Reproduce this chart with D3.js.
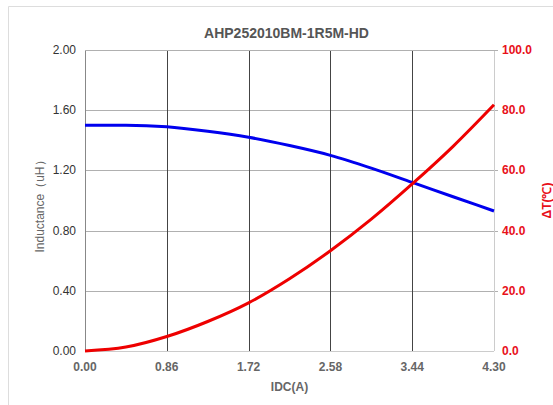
<!DOCTYPE html>
<html>
<head>
<meta charset="utf-8">
<script src="https://cdn.jsdelivr.net/npm/d3@7"></script>
<style>
  body { margin: 0; background: #fff; }
  text { font-family: "Liberation Sans", Arial, sans-serif; }
</style>
</head>
<body>
<div id="chart"></div>
<script>
// data
var idc = [0, 0.43, 0.86, 1.29, 1.72, 2.15, 2.58, 3.01, 3.44, 3.87, 4.30];
var inductance = [1.50, 1.50, 1.49, 1.46, 1.42, 1.365, 1.30, 1.215, 1.12, 1.025, 0.93];
var tempRise = [0, 1.3, 4.8, 9.8, 16, 24, 33.3, 43.8, 55.5, 68, 81.8];
var xTicks = [0, 0.86, 1.72, 2.58, 3.44, 4.30];
var leftTicks = [0, 0.4, 0.8, 1.2, 1.6, 2.0];
var rightTicks = [0, 20, 40, 60, 80, 100];

const width = 553, height = 405;
const margin = {left: 85, right: 59, top: 50, bottom: 54};

var svg = d3.select("#chart").append("svg")
  .attr("width", width)
  .attr("height", height);

// light frame
svg.append("line").attr("x1", 8.5).attr("y1", 6.5).attr("x2", 8.5).attr("y2", height)
  .attr("stroke", "#ddd");
svg.append("line").attr("x1", 8.5).attr("y1", 6.5).attr("x2", width).attr("y2", 6.5)
  .attr("stroke", "#ddd");

var x = d3.scaleLinear().domain([0, 4.30]).range([margin.left, width - margin.right]);
var yL = d3.scaleLinear().domain([0, 2]).range([height - margin.bottom, margin.top]);
var yR = d3.scaleLinear().domain([0, 100]).range([height - margin.bottom, margin.top]);

// grid
svg.append("g").selectAll("line")
  .data(leftTicks.slice(1))
  .enter().append("line")
  .attr("x1", x(0)).attr("x2", x(4.30) + 4)
  .attr("y1", d => Math.round(yL(d)) + 0.5).attr("y2", d => Math.round(yL(d)) + 0.5)
  .attr("stroke", "#b0b0b0");

svg.append("g").selectAll("line")
  .data(xTicks.slice(1, -1))
  .enter().append("line")
  .attr("x1", d => Math.round(x(d)) + 0.5).attr("x2", d => Math.round(x(d)) + 0.5)
  .attr("y1", yL(2)).attr("y2", yL(0))
  .attr("stroke", "#444");

// axis lines
svg.append("line")
  .attr("x1", x(0) + 0.5).attr("x2", x(0) + 0.5)
  .attr("y1", yL(2)).attr("y2", yL(0))
  .attr("stroke", "#888");
svg.append("line")
  .attr("x1", Math.round(x(4.30)) + 0.5).attr("x2", Math.round(x(4.30)) + 0.5)
  .attr("y1", yL(2)).attr("y2", yL(0))
  .attr("stroke", "#ccc");
svg.append("line")
  .attr("x1", x(0)).attr("x2", x(4.30))
  .attr("y1", Math.round(yL(0)) + 0.5).attr("y2", Math.round(yL(0)) + 0.5)
  .attr("stroke", "#ccc");
svg.append("line")
  .attr("x1", x(0)).attr("x2", x(4.30) + 4)
  .attr("y1", Math.round(yL(2)) + 0.5).attr("y2", Math.round(yL(2)) + 0.5)
  .attr("stroke", "#b0b0b0");

// tick labels
svg.append("g").selectAll("text")
  .data(leftTicks)
  .enter().append("text")
  .attr("x", x(0) - 9)
  .attr("y", d => yL(d) + 4)
  .attr("text-anchor", "end")
  .attr("font-size", "12px")
  .attr("fill", "#333")
  .text(d => d.toFixed(2));

svg.append("g").selectAll("text")
  .data(rightTicks)
  .enter().append("text")
  .attr("x", x(4.30) + 8)
  .attr("y", d => yR(d) + 4)
  .attr("font-size", "12px")
  .attr("font-weight", "bold")
  .attr("fill", "#e8101a")
  .text(d => d.toFixed(1));

svg.append("g").selectAll("text")
  .data(xTicks)
  .enter().append("text")
  .attr("x", d => x(d))
  .attr("y", yL(0) + 20)
  .attr("text-anchor", "middle")
  .attr("font-size", "12px")
  .attr("font-weight", "bold")
  .attr("fill", "#666")
  .text(d => d.toFixed(2));

// titles
svg.append("text")
  .attr("x", (x(0) + x(4.30)) / 2 - 3)
  .attr("y", 38)
  .attr("text-anchor", "middle")
  .attr("font-size", "14px")
  .attr("font-weight", "bold")
  .attr("fill", "#555")
  .text("AHP252010BM-1R5M-HD");

svg.append("text")
  .attr("x", (x(0) + x(4.30)) / 2)
  .attr("y", 391)
  .attr("text-anchor", "middle")
  .attr("font-size", "12px")
  .attr("font-weight", "bold")
  .attr("fill", "#666")
  .text("IDC(A)");

svg.append("text")
  .attr("transform", "translate(44," + ((yL(0) + yL(2)) / 2 + 3) + ") rotate(-90)")
  .attr("text-anchor", "middle")
  .attr("font-size", "12px")
  .attr("fill", "#666")
  .text("Inductance（uH）");

svg.append("text")
  .attr("transform", "translate(551," + ((yL(0) + yL(2)) / 2) + ") rotate(-90)")
  .attr("text-anchor", "middle")
  .attr("font-size", "12px")
  .attr("font-weight", "bold")
  .attr("fill", "#e8101a")
  .text("ΔT(℃)");

// curves
var lineL = d3.line().x((d, i) => x(idc[i])).y(d => yL(d)).curve(d3.curveMonotoneX);
var lineR = d3.line().x((d, i) => x(idc[i])).y(d => yR(d)).curve(d3.curveMonotoneX);

svg.append("path")
  .attr("d", lineL(inductance))
  .attr("fill", "none")
  .attr("stroke", "#0000ee")
  .attr("stroke-width", 3);

svg.append("path")
  .attr("d", lineR(tempRise))
  .attr("fill", "none")
  .attr("stroke", "#ee0000")
  .attr("stroke-width", 3);
</script>
</body>
</html>
